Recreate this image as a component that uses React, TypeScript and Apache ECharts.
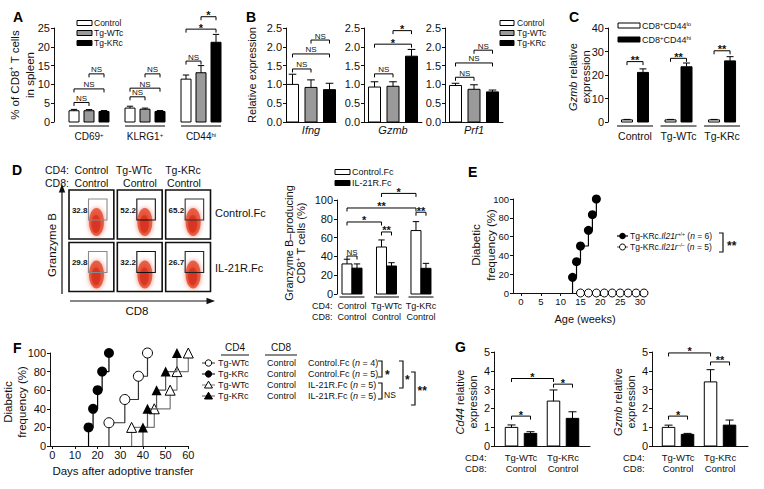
import React, { useEffect, useRef } from "react";
import * as echarts from "echarts";

const FONT = "'Liberation Sans', Arial, Helvetica, sans-serif";
const INK = "#111111";
const GRAY_BAR = "#9a9a9a";

type Bracket = [number, number, number, number, number, string];

// ---------------- Panel A ----------------
const aGroups = ["CD69", "KLRG1", "CD44"];
const aGroupSup = ["+", "+", "hi"];
const aLegend = ["Control", "Tg-WTc", "Tg-KRc"];
const aControl = [3.0, 3.7, 11.4];
const aControlErr = [0.35, 0.5, 1.1];
const aWTc = [3.0, 3.4, 13.1];
const aWTcErr = [0.3, 0.3, 1.9];
const aKRc = [2.8, 2.8, 21.2];
const aKRcErr = [0.25, 0.25, 2.1];
const aMax = 25;
const aStep = 5;
const aBrackets: Bracket[] = [
  [0, 0, 0, 1, 5.2, "NS"], [0, 0, 0, 2, 8.8, "NS"], [0, 1, 0, 2, 12.8, "NS"],
  [1, 0, 1, 1, 6.7, "NS"], [1, 0, 1, 2, 9.0, "NS"], [1, 1, 1, 2, 12.8, "NS"],
  [2, 0, 2, 1, 16.2, "NS"], [2, 0, 2, 2, 24.7, "*"], [2, 1, 2, 2, 28.0, "*"],
];

// ---------------- Panel B ----------------
const bGenes = ["Ifng", "Gzmb", "Prf1"];
const bLegend = ["Control", "Tg-WTc", "Tg-KRc"];
const bControl = [1.0, 0.93, 0.97];
const bControlErr = [0.27, 0.14, 0.06];
const bWTc = [0.92, 0.95, 0.87];
const bWTcErr = [0.2, 0.12, 0.12];
const bKRc = [0.86, 1.75, 0.8];
const bKRcErr = [0.17, 0.18, 0.05];
const bMax = 2.5;
const bStep = 0.5;
const bBrackets: Bracket[][] = [
  [[0, 0, 0, 1, 1.41, "NS"], [0, 0, 0, 2, 1.81, "NS"], [0, 1, 0, 2, 2.18, "NS"]],
  [[0, 0, 0, 1, 1.28, "NS"], [0, 0, 0, 2, 2.07, "*"], [0, 1, 0, 2, 2.43, "*"]],
  [[0, 0, 0, 1, 1.19, "NS"], [0, 0, 0, 2, 1.57, "NS"], [0, 1, 0, 2, 1.91, "NS"]],
];

// ---------------- Panel C ----------------
const cGroups = ["Control", "Tg-WTc", "Tg-KRc"];
const cLegend = ["CD8{sup|+}CD44{sup|lo}", "CD8{sup|+}CD44{sup|hi}"];
const cLo = [0.9, 0.9, 0.9];
const cLoErr = [0.2, 0.2, 0.2];
const cHi = [21.1, 23.5, 26.0];
const cHiErr = [1.5, 1.6, 1.8];
const cMax = 40;
const cStep = 10;
const cBrackets: Bracket[] = [
  [0, 0, 0, 1, 25.7, "**"], [1, 0, 1, 1, 27.1, "**"], [2, 0, 2, 1, 30.3, "**"],
];

// ---------------- Panel D (flow) ----------------
const dFlowCD4 = ["Control", "Tg-WTc", "Tg-KRc"];
const dFlowCD8 = ["Control", "Control", "Control"];
const dFlowTreat = ["Control.Fc", "IL-21R.Fc"];
const dFlowPct = [
  [32.8, 52.2, 65.2],
  [29.8, 32.2, 26.7],
];

// ---------------- Panel D (bars) ----------------
const dBarCD4 = ["Control", "Tg-WTc", "Tg-KRc"];
const dBarCD8 = ["Control", "Control", "Control"];
const dBarLegend = ["Control.Fc", "IL-21R.Fc"];
const dCtrlFc = [32, 50, 67.5];
const dCtrlFcErr = [5, 7.5, 9.5];
const dIL21 = [27.5, 29.8, 27.3];
const dIL21Err = [4.5, 3.5, 5.3];
const dMax = 100;
const dStep = 20;
const dBrackets: Bracket[] = [
  [0, 0, 0, 1, 40.4, "NS"], [1, 0, 1, 1, 66, "**"], [2, 0, 2, 1, 87, "**"],
  [0, 0, 1, 0, 76.6, "*"], [0, 0, 2, 0, 91.5, "**"], [1, 0, 2, 0, 107, "*"],
];

// ---------------- Panel E ----------------
const eWeeksWT = [13, 14, 15, 17, 18, 19];
const eFreqWT = [16.7, 33.3, 50, 66.7, 83.3, 100];
const eWeeksKO = [15, 17, 19, 21, 23, 25, 27, 29, 31];
const eFreqKO = [0, 0, 0, 0, 0, 0, 0, 0, 0];
const eXTicks = [0, 5, 10, 15, 20, 25, 30];
const eLegend = [
  "Tg-KRc.{i|Il21r}{sup|+/+} ({i|n} = 6)",
  "Tg-KRc.{i|Il21r}{sup|–/–} ({i|n} = 5)",
];

// ---------------- Panel F ----------------
const fDaysWTcCtrl = [25, 32, 38, 42];
const fFreqWTcCtrl = [25, 50, 75, 100];
const fDaysKRcCtrl = [16, 18, 20, 22, 25];
const fFreqKRcCtrl = [20, 40, 60, 80, 100];
const fDaysWTcIL21 = [35, 45, 52, 55, 60];
const fFreqWTcIL21 = [20, 40, 60, 80, 100];
const fDaysKRcIL21 = [40, 42, 46, 50, 55];
const fFreqKRcIL21 = [20, 40, 60, 80, 100];
const fXTicks = [0, 10, 20, 30, 40, 50, 60];
const fLegendCD4 = ["Tg-WTc", "Tg-KRc", "Tg-WTc", "Tg-KRc"];
const fLegendCD8 = ["Control", "Control", "Control", "Control"];
const fLegendTreat = ["Control.Fc", "Control.Fc", "IL-21R.Fc", "IL-21R.Fc"];
const fLegendN = [4, 5, 5, 5];

// ---------------- Panel G ----------------
const gCD4 = ["Tg-WTc", "Tg-KRc"];
const gCD8 = ["Control", "Control"];
const gCd44Fc = [0.99, 2.39];
const gCd44FcErr = [0.13, 0.59];
const gCd44IL = [0.67, 1.47];
const gCd44ILErr = [0.09, 0.35];
const gGzmbFc = [0.99, 3.41];
const gGzmbFcErr = [0.12, 0.65];
const gGzmbIL = [0.62, 1.11];
const gGzmbILErr = [0.05, 0.27];
const gMax = 5;
const gStep = 1;
const gCd44Brackets: Bracket[] = [
  [0, 0, 0, 1, 1.59, "*"], [0, 0, 1, 0, 3.59, "*"], [1, 0, 1, 1, 3.29, "*"],
];
const gGzmbBrackets: Bracket[] = [
  [0, 0, 0, 1, 1.59, "*"], [0, 0, 1, 0, 4.95, "*"], [1, 0, 1, 1, 4.47, "**"],
];

// ---------------- helpers ----------------
const richAxis = (size: number) => ({
  i: { fontStyle: "italic", fontSize: size, fontFamily: FONT, color: INK },
  sup: { fontSize: Math.round(size * 0.62), fontFamily: FONT, color: INK, verticalAlign: "top" },
});
const richG = (size: number) => ({
  i: { fontStyle: "italic", fontSize: size, fontFamily: FONT, fill: INK },
  sup: { fontSize: Math.max(5, Math.round(size * 0.62)), fontFamily: FONT, fill: INK, verticalAlign: "top" },
});

function txt(x: number, y: number, text: string, opt: any = {}) {
  const size = opt.fontSize ?? 10;
  return {
    type: "text", x, y, silent: true,
    style: {
      text, fill: INK, fontFamily: FONT, fontSize: size, align: "left", verticalAlign: "middle",
      rich: richG(size), ...opt,
    },
  };
}
function rotTxt(x: number, y: number, text: string, opt: any = {}) {
  const t: any = txt(x, y, text, { align: "center", ...opt });
  t.rotation = Math.PI / 2;
  return t;
}
function gLine(x1: number, y1: number, x2: number, y2: number, color = INK, w = 1) {
  return { type: "line", silent: true, shape: { x1, y1, x2, y2 }, style: { stroke: color, lineWidth: w } };
}
function gBox(x: number, y: number, w: number, h: number, fill: string) {
  return { type: "rect", silent: true, shape: { x, y, width: w, height: h }, style: { fill, stroke: "#000", lineWidth: 1 } };
}
function gBracket(x: number, y1: number, y2: number) {
  return {
    type: "polyline", silent: true,
    shape: { points: [[x - 4, y1], [x, y1], [x, y2], [x - 4, y2]] },
    style: { stroke: INK, lineWidth: 1.2, fill: "none" },
  };
}

function barItem(offset: number, w: number, fill: string) {
  return (_params: any, api: any) => {
    const k = api.value(0);
    const v = api.value(1);
    const e = api.value(2);
    const base = api.coord([k, 0]);
    const top = api.coord([k, v]);
    const et = api.coord([k, v + e]);
    const cx = base[0] + offset;
    const cap = Math.max(2.5, w * 0.32);
    return {
      type: "group",
      children: [
        { type: "rect", shape: { x: cx - w / 2, y: top[1], width: w, height: base[1] - top[1] }, style: { fill, stroke: "#000", lineWidth: 1 } },
        { type: "line", shape: { x1: cx, y1: top[1], x2: cx, y2: et[1] }, style: { stroke: "#000", lineWidth: 1 } },
        { type: "line", shape: { x1: cx - cap, y1: et[1], x2: cx + cap, y2: et[1] }, style: { stroke: "#000", lineWidth: 1 } },
      ],
    };
  };
}
function underlineItem(dy: number, half: number) {
  return (_params: any, api: any) => {
    const p = api.coord([api.value(0), 0]);
    return { type: "line", shape: { x1: p[0] - half, y1: p[1] + dy, x2: p[0] + half, y2: p[1] + dy }, style: { stroke: "#000", lineWidth: 1 } };
  };
}
function bracketItem(brs: Bracket[], offsets: number[]) {
  return (params: any, api: any) => {
    const b = brs[params.dataIndex];
    const p1 = api.coord([b[0], b[4]]);
    const p2 = api.coord([b[2], b[4]]);
    const x1 = p1[0] + offsets[b[1]];
    const x2 = p2[0] + offsets[b[3]];
    const y = p1[1];
    const star = b[5].indexOf("*") >= 0;
    return {
      type: "group",
      children: [
        { type: "polyline", shape: { points: [[x1, y + 3.5], [x1, y], [x2, y], [x2, y + 3.5]] }, style: { stroke: "#000", fill: "none", lineWidth: 1 } },
        {
          type: "text", x: (x1 + x2) / 2, y: star ? y + 4 : y,
          style: { text: b[5], align: "center", verticalAlign: "bottom", fill: "#111", fontFamily: FONT, fontSize: star ? 11 : 8, fontWeight: star ? "bold" : "normal" },
        },
      ],
    };
  };
}
function flowItem(gateColors: string[][]) {
  return (_params: any, api: any) => {
    const c = api.value(0);
    const r = api.value(1);
    const pct = api.value(2);
    const tl = api.coord([c, r]);
    const br = api.coord([c + 1, r + 1]);
    const x0 = tl[0];
    const y0 = tl[1];
    const w = br[0] - tl[0] - 3.5;
    const h = br[1] - tl[1] - 3.5;
    const cx = x0 + 27.5;
    const cy = y0 + 32;
    return {
      type: "group",
      children: [
        { type: "rect", shape: { x: x0, y: y0, width: w, height: h }, style: { fill: "#fff", stroke: "#111", lineWidth: 1.6 } },
        {
          type: "ellipse", shape: { cx, cy, rx: 7.5, ry: 14 },
          style: { fill: "rgba(228,72,45,0.8)", shadowBlur: 5, shadowColor: "rgba(235,95,70,0.95)" },
        },
        {
          type: "ellipse", shape: { cx: cx - 0.5, cy: cy + 2, rx: 4.5, ry: 9 },
          style: { fill: "rgba(212,42,22,0.6)", shadowBlur: 3, shadowColor: "rgba(212,42,22,0.6)" },
        },
        { type: "rect", shape: { x: x0 + 19.5, y: y0 + 9, width: 18.5, height: 21 }, style: { fill: "none", stroke: gateColors[r][c], lineWidth: 1.1 } },
        {
          type: "text", x: x0 + 18.5, y: y0 + 20,
          style: { text: pct.toFixed(1), align: "right", verticalAlign: "middle", fill: "#111", fontFamily: FONT, fontSize: 8, fontWeight: "bold" },
        },
      ],
    };
  };
}

function buildOption() {
  const grid: any[] = [];
  const xAxis: any[] = [];
  const yAxis: any[] = [];
  const series: any[] = [];
  const gfx: any[] = [];

  const yAxisBase = (gi: number, max: number, step: number, dec: number, size: number, extra: any = {}) => ({
    gridIndex: gi, type: "value", min: 0, max, interval: step,
    axisLine: { show: true, onZero: false, lineStyle: { color: INK, width: 1 } },
    axisTick: { show: true, length: 3, lineStyle: { color: INK, width: 1 } },
    splitLine: { show: false },
    axisLabel: { fontSize: size, fontFamily: FONT, color: INK, margin: 4, formatter: (v: number) => v.toFixed(dec) },
    ...extra,
  });

  function addBarPanel(p: any) {
    const gi = grid.length;
    grid.push({ left: p.left, top: p.top, width: p.width, height: p.height, containLabel: false, outerBoundsMode: "none" });
    xAxis.push({
      gridIndex: gi, type: "value", min: p.xMin, max: p.xMax,
      axisLine: { show: p.xLine, onZero: false, lineStyle: { color: INK, width: 1 } },
      axisTick: { show: false }, splitLine: { show: false },
      axisLabel: {
        show: true,
        customValues: p.labels.map((_: any, i: number) => i),
        formatter: (v: number) => p.labels[Math.round(v)] ?? "",
        margin: p.labelMargin, fontSize: p.labelFont, fontFamily: FONT, color: INK,
        fontStyle: p.labelItalic ? "italic" : "normal",
        lineHeight: p.labelLineHeight, rich: richAxis(p.labelFont),
      },
    });
    yAxis.push(yAxisBase(gi, p.yMax, p.yStep, p.yDec ?? 0, p.yFont ?? 11));
    p.bars.forEach((b: any, si: number) => {
      series.push({
        type: "custom", xAxisIndex: gi, yAxisIndex: gi, silent: true, z: 3, itemStyle: { color: INK },
        data: b.values.map((v: number, k: number) => [k, v, b.errs[k]]),
        renderItem: barItem(p.offsets[si], p.barWidth, b.fill),
      });
    });
    if (p.underline) {
      series.push({
        type: "custom", xAxisIndex: gi, yAxisIndex: gi, silent: true, itemStyle: { color: INK },
        data: p.labels.map((_: any, k: number) => [k, 0]),
        renderItem: underlineItem(p.underline.dy, p.underline.half),
      });
    }
    series.push({
      type: "custom", xAxisIndex: gi, yAxisIndex: gi, silent: true, z: 4, itemStyle: { color: INK },
      data: p.brackets.map((b: Bracket) => [b[0], b[4]]),
      renderItem: bracketItem(p.brackets, p.offsets),
    });
  }

  // ---- A ----
  addBarPanel({
    left: 54, top: 28, width: 182, height: 94, xMin: -0.625, xMax: 2.625,
    yMax: aMax, yStep: aStep, offsets: [-15, 0, 15], barWidth: 10,
    bars: [
      { values: aControl, errs: aControlErr, fill: "#fff" },
      { values: aWTc, errs: aWTcErr, fill: GRAY_BAR },
      { values: aKRc, errs: aKRcErr, fill: "#000" },
    ],
    brackets: aBrackets, xLine: false,
    labels: aGroups.map((g, i) => `${g}{sup|${aGroupSup[i]}}`),
    labelFont: 10, labelMargin: 9.5, underline: { dy: 4, half: 20 },
  });
  // ---- B ----
  const bLefts = [286, 364, 445];
  const bWidths = [50, 58, 58];
  bGenes.forEach((gene, i) => {
    addBarPanel({
      left: bLefts[i], top: 28, width: bWidths[i], height: 94, xMin: -0.5, xMax: 0.5,
      yMax: bMax, yStep: bStep, yDec: 1, offsets: [-18.5, 0, 18.5], barWidth: 12,
      bars: [
        { values: [bControl[i]], errs: [bControlErr[i]], fill: "#fff" },
        { values: [bWTc[i]], errs: [bWTcErr[i]], fill: GRAY_BAR },
        { values: [bKRc[i]], errs: [bKRcErr[i]], fill: "#000" },
      ],
      brackets: bBrackets[i], xLine: true, labels: [gene], labelItalic: true,
      labelFont: 11, labelMargin: 2,
    });
  });
  // ---- C ----
  addBarPanel({
    left: 608, top: 28, width: 138, height: 94, xMin: -0.62, xMax: 2.55,
    yMax: cMax, yStep: cStep, offsets: [-8, 8], barWidth: 11,
    bars: [
      { values: cLo, errs: cLoErr, fill: "#fff" },
      { values: cHi, errs: cHiErr, fill: "#000" },
    ],
    brackets: cBrackets, xLine: false, labels: cGroups, labelFont: 10.5, labelMargin: 8.5,
    underline: { dy: 4, half: 18 },
  });
  // ---- D bars ----
  addBarPanel({
    left: 337, top: 200, width: 99.5, height: 94, xMin: -0.435, xMax: 2.45,
    yMax: dMax, yStep: dStep, offsets: [-5, 5], barWidth: 10,
    bars: [
      { values: dCtrlFc, errs: dCtrlFcErr, fill: "#fff" },
      { values: dIL21, errs: dIL21Err, fill: "#000" },
    ],
    brackets: dBrackets, xLine: false,
    labels: dBarCD4.map((c, i) => `${c}\n${dBarCD8[i]}`), labelFont: 9, labelLineHeight: 11,
    labelMargin: 6.5, underline: { dy: 3, half: 12.5 },
  });
  // ---- G ----
  addBarPanel({
    left: 494, top: 352, width: 96, height: 94, xMin: -0.643, xMax: 1.643,
    yMax: gMax, yStep: gStep, offsets: [-9.5, 9.5], barWidth: 12.5,
    bars: [
      { values: gCd44Fc, errs: gCd44FcErr, fill: "#fff" },
      { values: gCd44IL, errs: gCd44ILErr, fill: "#000" },
    ],
    brackets: gCd44Brackets, xLine: true,
    labels: gCD4.map((c, i) => `${c}\n${gCD8[i]}`), labelFont: 9.5, labelLineHeight: 11, labelMargin: 5.5,
  });
  addBarPanel({
    left: 652, top: 352, width: 96, height: 94, xMin: -0.62, xMax: 1.666,
    yMax: gMax, yStep: gStep, offsets: [-9.5, 9.5], barWidth: 12.5,
    bars: [
      { values: gGzmbFc, errs: gGzmbFcErr, fill: "#fff" },
      { values: gGzmbIL, errs: gGzmbILErr, fill: "#000" },
    ],
    brackets: gGzmbBrackets, xLine: true,
    labels: gCD4.map((c, i) => `${c}\n${gCD8[i]}`), labelFont: 9.5, labelLineHeight: 11, labelMargin: 5.5,
  });

  // ---- D flow ----
  {
    const gi = grid.length;
    grid.push({ left: 69, top: 190, width: 145, height: 105, containLabel: false, outerBoundsMode: "none" });
    xAxis.push({ gridIndex: gi, type: "value", min: 0, max: 3, show: false });
    yAxis.push({ gridIndex: gi, type: "value", min: 0, max: 2, inverse: true, show: false });
    const data: number[][] = [];
    dFlowPct.forEach((row, r) => row.forEach((v, c) => data.push([c, r, v])));
    series.push({
      type: "custom", xAxisIndex: gi, yAxisIndex: gi, silent: true, data, itemStyle: { color: INK },
      renderItem: flowItem([["#8a8a8a", "#111", "#333"], ["#8a8a8a", "#111", "#222"]]),
    });
  }

  // ---- E ----
  {
    const gi = grid.length;
    grid.push({ left: 513, top: 199, width: 131, height: 94, containLabel: false, outerBoundsMode: "none" });
    xAxis.push({
      gridIndex: gi, type: "value", min: -2, max: 31,
      axisLine: { show: true, onZero: false, lineStyle: { color: INK, width: 1 } },
      axisTick: { show: true, length: 3, customValues: eXTicks, lineStyle: { color: INK } },
      axisLabel: { customValues: eXTicks, fontSize: 9.5, fontFamily: FONT, color: INK, margin: 3 },
      splitLine: { show: false },
    });
    yAxis.push(yAxisBase(gi, 100, 20, 0, 9.5));
    series.push({
      type: "line", xAxisIndex: gi, yAxisIndex: gi, step: "end", clip: false, silent: true, z: 6,
      data: [{ value: [eWeeksWT[0], 0], symbol: "none" }, ...eWeeksWT.map((w, i) => [w, eFreqWT[i]])],
      symbol: "circle", symbolSize: 9, showAllSymbol: true,
      itemStyle: { color: "#000" }, lineStyle: { color: "#000", width: 1.2 },
    });
    series.push({
      type: "line", xAxisIndex: gi, yAxisIndex: gi, clip: false, silent: true, z: 5,
      data: eWeeksKO.map((w, i) => [w, eFreqKO[i]]),
      symbol: "circle", symbolSize: 8, showAllSymbol: true,
      itemStyle: { color: "#fff", borderColor: "#000", borderWidth: 1 }, lineStyle: { color: "#555", width: 1 },
    });
  }

  // ---- F ----
  const fDefs = [
    { days: fDaysWTcCtrl, freq: fFreqWTcCtrl, symbol: "circle", filled: false, line: "#333", size: 10 },
    { days: fDaysKRcCtrl, freq: fFreqKRcCtrl, symbol: "circle", filled: true, line: "#000", size: 10 },
    { days: fDaysWTcIL21, freq: fFreqWTcIL21, symbol: "triangle", filled: false, line: "#777", size: 10 },
    { days: fDaysKRcIL21, freq: fFreqKRcIL21, symbol: "triangle", filled: true, line: "#555", size: 10 },
  ];
  {
    const gi = grid.length;
    grid.push({ left: 50, top: 353, width: 138.3, height: 93, containLabel: false, outerBoundsMode: "none" });
    xAxis.push({
      gridIndex: gi, type: "value", min: -1, max: 60,
      axisLine: { show: true, onZero: false, lineStyle: { color: INK, width: 1 } },
      axisTick: { show: true, length: 3, customValues: fXTicks, lineStyle: { color: INK } },
      axisLabel: { customValues: fXTicks, fontSize: 11, fontFamily: FONT, color: INK, margin: 3 },
      splitLine: { show: false },
    });
    yAxis.push(yAxisBase(gi, 100, 20, 0, 11));
    fDefs.forEach((d, k) => {
      series.push({
        type: "line", xAxisIndex: gi, yAxisIndex: gi, step: "end", clip: false, silent: true, z: 5 + k,
        data: [{ value: [d.days[0], 0], symbol: "none" }, ...d.days.map((x, i) => [x, d.freq[i]])],
        symbol: d.symbol, symbolSize: d.size, showAllSymbol: true,
        itemStyle: d.filled ? { color: "#000" } : { color: "#fff", borderColor: "#000", borderWidth: 1 },
        lineStyle: { color: d.line, width: 1.2 },
      });
    });
  }

  // ---------------- graphic texts ----------------
  const letter = (x: number, y: number, t: string) => txt(x, y, t, { fontSize: 14, fontWeight: "bold", fill: "#000" });
  gfx.push(letter(13, 17, "A"), letter(246, 17, "B"), letter(569, 17, "C"), letter(12, 170, "D"),
    letter(468, 172, "E"), letter(13, 348, "F"), letter(455, 347, "G"));

  // A legend
  const fills3 = ["#fff", GRAY_BAR, "#000"];
  aLegend.forEach((t, i) => {
    gfx.push(gBox(77, 20.5 + 10 * i, 15, 5, fills3[i]), txt(94, 23 + 10 * i, t, { fontSize: 8.5 }));
  });
  gfx.push(rotTxt(22.5, 75, "% of CD8{sup|+} T cells\nin spleen", { fontSize: 11.5, lineHeight: 15, rich: richG(11.5) }));
  // B legend + label
  bLegend.forEach((t, i) => {
    gfx.push(gBox(500, 20.5 + 10 * i, 14, 5, fills3[i]), txt(517, 23 + 10 * i, t, { fontSize: 8.5 }));
  });
  gfx.push(rotTxt(252, 75, "Relative expression", { fontSize: 11 }));
  // C legend + label
  cLegend.forEach((t, i) => {
    gfx.push(gBox(618, 23 + 14 * i, 22, 5, i === 0 ? "#fff" : "#000"), txt(642, 25.5 + 14 * i, t, { fontSize: 9, rich: richG(9) }));
  });
  gfx.push(rotTxt(579.5, 77, "{i|Gzmb} relative\nexpression", { fontSize: 11, lineHeight: 13, rich: richG(11) }));

  // D flow header / labels
  gfx.push(txt(45, 170, "CD4:", { fontSize: 10.5 }), txt(45, 183, "CD8:", { fontSize: 10.5 }));
  const cd4X = [91.5, 134, 183];
  const cd8X = [91.5, 140, 184];
  dFlowCD4.forEach((t, i) => gfx.push(txt(cd4X[i], 170, t, { fontSize: 10.5, align: "center" })));
  dFlowCD8.forEach((t, i) => gfx.push(txt(cd8X[i], 183, t, { fontSize: 10.5, align: "center" })));
  gfx.push(txt(215, 213, dFlowTreat[0], { fontSize: 11 }), txt(215, 268, dFlowTreat[1], { fontSize: 11 }));
  gfx.push(gLine(62, 294, 62, 191, INK, 1.2));
  gfx.push({ type: "polygon", silent: true, shape: { points: [[62, 184], [58.8, 192.5], [65.2, 192.5]] }, style: { fill: INK } });
  gfx.push(gLine(70, 301, 207, 301, INK, 1.2));
  gfx.push({ type: "polygon", silent: true, shape: { points: [[215, 301], [206.5, 297.8], [206.5, 304.2]] }, style: { fill: INK } });
  gfx.push(rotTxt(52, 245, "Granzyme B", { fontSize: 11.5 }));
  gfx.push(txt(137, 311, "CD8", { fontSize: 11.5, align: "center" }));

  // D bar legend + labels
  dBarLegend.forEach((t, i) => {
    gfx.push(gBox(335, 169.5 + 11 * i, 15, 5, i === 0 ? "#fff" : "#000"), txt(352, 172 + 11 * i, t, { fontSize: 9 }));
  });
  gfx.push(rotTxt(295, 243, "Granzyme B–producing\nCD8{sup|+} T cells (%)", { fontSize: 11, lineHeight: 12.5, rich: richG(11) }));
  gfx.push(txt(312, 306, "CD4:", { fontSize: 9 }), txt(312, 317, "CD8:", { fontSize: 9 }));

  // E legend + labels
  gfx.push(gLine(617, 236, 628, 236, "#000", 1.2));
  gfx.push({ type: "circle", silent: true, shape: { cx: 622.5, cy: 236, r: 3.3 }, style: { fill: "#000" } });
  gfx.push(gLine(617, 247, 628, 247, "#555", 1));
  gfx.push({ type: "circle", silent: true, shape: { cx: 622.5, cy: 247, r: 3 }, style: { fill: "#fff", stroke: "#000", lineWidth: 1 } });
  eLegend.forEach((t, i) => gfx.push(txt(630, 236 + 11 * i, t, { fontSize: 8.5, rich: richG(8.5) })));
  gfx.push(gBracket(723, 233, 252));
  gfx.push(txt(727, 246, "**", { fontSize: 12, fontWeight: "bold" }));
  gfx.push(rotTxt(483.5, 245, "Diabetic\nfrequency (%)", { fontSize: 11.5, lineHeight: 15 }));
  gfx.push(txt(585, 319, "Age (weeks)", { fontSize: 11, align: "center" }));

  // F legend + labels
  gfx.push(txt(235, 347, "CD4", { fontSize: 10, align: "center" }), gLine(221, 355, 249, 355));
  gfx.push(txt(281, 347, "CD8", { fontSize: 10, align: "center" }), gLine(265, 355, 297, 355));
  const rowY = [363, 374, 385, 396];
  fDefs.forEach((d, k) => {
    const y = rowY[k];
    gfx.push(gLine(202, y, 215, y, d.line, 1));
    if (d.symbol === "circle") {
      gfx.push({ type: "circle", silent: true, shape: { cx: 208.5, cy: y, r: 3.2 }, style: { fill: d.filled ? "#000" : "#fff", stroke: "#000", lineWidth: 1 } });
    } else {
      gfx.push({ type: "polygon", silent: true, shape: { points: [[208.5, y - 3.8], [204.5, y + 3], [212.5, y + 3]] }, style: { fill: d.filled ? "#000" : "#fff", stroke: "#000", lineWidth: 1 } });
    }
    gfx.push(txt(218, y, fLegendCD4[k], { fontSize: 9 }));
    gfx.push(txt(267, y, fLegendCD8[k], { fontSize: 9 }));
    gfx.push(txt(308, y, `${fLegendTreat[k]} ({i|n} = ${fLegendN[k]})`, { fontSize: 9, rich: richG(9) }));
  });
  gfx.push(gBracket(382, 361, 377), txt(385, 374.5, "*", { fontSize: 12, fontWeight: "bold" }));
  gfx.push(gBracket(382, 383, 399), txt(384, 395, "NS", { fontSize: 8.5 }));
  gfx.push(gBracket(403, 361, 388), txt(405, 380, "*", { fontSize: 12, fontWeight: "bold" }));
  gfx.push(gBracket(415, 372, 405), txt(417.5, 391, "**", { fontSize: 12, fontWeight: "bold" }));
  gfx.push(rotTxt(15, 402, "Diabetic\nfrequency (%)", { fontSize: 11.5, lineHeight: 14 }));
  gfx.push(txt(123, 471, "Days after adoptive transfer", { fontSize: 11.5, align: "center" }));

  // G labels
  gfx.push(txt(465, 457, "CD4:", { fontSize: 9.5 }), txt(465, 468, "CD8:", { fontSize: 9.5 }));
  gfx.push(txt(623, 457, "CD4:", { fontSize: 9.5 }), txt(623, 468, "CD8:", { fontSize: 9.5 }));
  gfx.push(rotTxt(466.5, 402, "{i|Cd44} relative\nexpression", { fontSize: 11, lineHeight: 13, rich: richG(11) }));
  gfx.push(rotTxt(624.5, 402, "{i|Gzmb} relative\nexpression", { fontSize: 11, lineHeight: 13, rich: richG(11) }));

  return {
    animation: false,
    backgroundColor: "#fff",
    color: [INK],
    textStyle: { fontFamily: FONT, color: INK },
    grid, xAxis, yAxis, series,
    graphic: { elements: gfx },
  };
}

export default function App() {
  const ref = useRef<HTMLDivElement>(null);
  useEffect(() => {
    if (!ref.current) return;
    const chart = echarts.init(ref.current, undefined, { renderer: "svg", width: 764, height: 489 });
    chart.setOption(buildOption() as any);
    return () => chart.dispose();
  }, []);
  return (
    <div
      ref={ref}
      style={{ position: "absolute", left: 0, top: 0, width: 764, height: 489, background: "#fff" }}
    />
  );
}
